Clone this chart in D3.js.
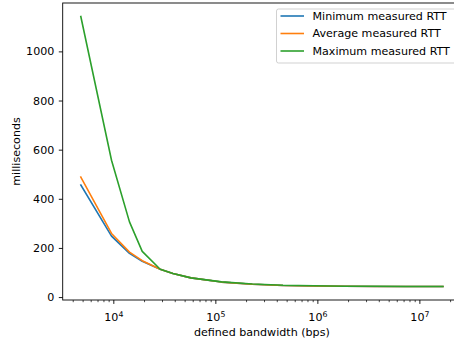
<!DOCTYPE html>
<html>
<head>
<meta charset="utf-8">
<script src="https://cdn.jsdelivr.net/npm/d3@7"></script>
<style>
  body { margin: 0; background: #fff; }
  text { font-family: "DejaVu Sans", sans-serif; }
</style>
</head>
<body>
<div id="chart"></div>
<script>

// bandwidths (bps) and measured RTT (ms)
let bandwidths = [4800, 9600, 14400, 19200, 28800, 38400, 57600, 115200, 230400, 460800, 921600, 1843200, 3686400, 7372800, 17000000]

let rtt_min = [456, 248, 178, 146, 113, 96, 78, 61, 52, 47, 45, 44, 43, 43, 43]
let rtt_avg = [488, 259, 183, 148, 113, 96, 78, 61, 52, 47, 45, 44, 43, 43, 43]
let rtt_max = [1142, 557, 306, 186, 113, 96, 78, 62, 53, 48, 46, 44, 44, 43, 43]

let series_names = ['Minimum measured RTT', 'Average measured RTT', 'Maximum measured RTT']
let series_colors = ['#1f77b4', '#ff7f0e', '#2ca02c']

let y_ticks = [0, 200, 400, 600, 800, 1000]
let x_ticks = [1e4, 1e5, 1e6, 1e7]

let width = 454, height = 343
let font_size = 11.1

// axes box, right spine falls just off the picture
let ax_left = 62.7, ax_right = 461, ax_top = 3, ax_bottom = 300

let svg = d3.select('#chart').append('svg')
  .attr('width', width)
  .attr('height', height)

// matplotlib style 5% margin, in log space for x
let lx0 = Math.log10(d3.min(bandwidths)), lx1 = Math.log10(d3.max(bandwidths))
let mx = (lx1 - lx0) * 0.05
let x = d3.scaleLog()
  .domain([Math.pow(10, lx0 - mx), Math.pow(10, lx1 + mx)])
  .range([ax_left, ax_right])

let all_vals = rtt_min.concat(rtt_avg, rtt_max)
let y0 = d3.min(all_vals), y1 = d3.max(all_vals)
let my = (y1 - y0) * 0.05
let y = d3.scaleLinear()
  .domain([y0 - my, y1 + my])
  .range([ax_bottom, ax_top])

svg.append('clipPath').attr('id', 'plot-clip')
  .append('rect')
  .attr('x', ax_left).attr('y', ax_top)
  .attr('width', ax_right - ax_left).attr('height', ax_bottom - ax_top)

// lines
let all_series = [rtt_min, rtt_avg, rtt_max]

let line = d3.line()
  .x((d, i) => x(bandwidths[i]))
  .y(d => y(d))

svg.append('g')
  .attr('clip-path', 'url(#plot-clip)')
  .selectAll('path')
  .data(all_series)
  .join('path')
  .attr('d', d => line(d))
  .attr('fill', 'none')
  .attr('stroke', (d, i) => series_colors[i])
  .attr('stroke-width', 1.6)
  .attr('stroke-linejoin', 'round')
  .attr('stroke-linecap', 'square')

// y axis
let y_axis = svg.append('g')
  .attr('transform', 'translate(' + ax_left + ',0)')
  .call(d3.axisLeft(y).tickValues(y_ticks).tickSize(3.9).tickPadding(4.5).tickFormat(d3.format('d')))

y_axis.select('.domain').remove()
y_axis.selectAll('line').attr('stroke', '#000').attr('stroke-width', 0.9)
y_axis.selectAll('text').attr('font-size', font_size).attr('fill', '#000')
  .attr('font-family', '"DejaVu Sans", sans-serif')

// x axis, minor ticks first
let minor_ticks = []
for (let e = 3; e <= 7; e++) {
  for (let m = 2; m <= 9; m++) {
    let v = m * Math.pow(10, e)
    if (v > x.domain()[0] && v < x.domain()[1]) minor_ticks.push(v)
  }
}

let x_minor = svg.append('g')
  .attr('transform', 'translate(0,' + ax_bottom + ')')
  .call(d3.axisBottom(x).tickValues(minor_ticks).tickSize(2.2).tickFormat(''))
x_minor.select('.domain').remove()
x_minor.selectAll('line').attr('stroke', '#000').attr('stroke-width', 0.7)

let x_axis = svg.append('g')
  .attr('transform', 'translate(0,' + ax_bottom + ')')
  .call(d3.axisBottom(x).tickValues(x_ticks).tickSize(3.9).tickPadding(3.9).tickFormat(''))
x_axis.select('.domain').remove()
x_axis.selectAll('line').attr('stroke', '#000').attr('stroke-width', 0.9)

// 10^n labels with superscript
x_axis.selectAll('.tick').each(function(d) {
  let t = d3.select(this).append('text')
    .attr('y', 21)
    .attr('text-anchor', 'middle')
    .attr('font-size', font_size)
    .attr('fill', '#000')
  t.append('tspan').text('10')
  t.append('tspan')
    .attr('font-size', 7.8)
    .attr('dy', '-0.5em')
    .text(Math.round(Math.log10(d)))
})

// spines
svg.append('rect')
  .attr('x', ax_left).attr('y', ax_top)
  .attr('width', ax_right - ax_left).attr('height', ax_bottom - ax_top)
  .attr('fill', 'none')
  .attr('stroke', '#000')
  .attr('stroke-width', 0.9)

// axis labels
svg.append('text')
  .attr('x', (ax_left + ax_right) / 2)
  .attr('y', 335.5)
  .attr('text-anchor', 'middle')
  .attr('font-size', font_size)
  .text('defined bandwidth (bps)')

svg.append('text')
  .attr('transform', 'translate(19.5,' + ((ax_top + ax_bottom) / 2) + ') rotate(-90)')
  .attr('text-anchor', 'middle')
  .attr('font-size', font_size)
  .text('milliseconds')

// legend, upper right
let leg_w = 179.5, leg_h = 54
let leg_x = ax_right - 5 - leg_w, leg_y = ax_top + 6

let legend = svg.append('g')
  .attr('transform', 'translate(' + leg_x + ',' + leg_y + ')')

legend.append('rect')
  .attr('width', leg_w).attr('height', leg_h)
  .attr('rx', 2)
  .attr('fill', '#fff')
  .attr('fill-opacity', 0.8)
  .attr('stroke', '#ccc')
  .attr('stroke-width', 0.9)

let leg_items = legend.selectAll('g')
  .data(series_names)
  .join('g')
  .attr('transform', (d, i) => 'translate(0,' + (7 + i * 17.5) + ')')

leg_items.append('line')
  .attr('x1', 4).attr('x2', 27.5)
  .attr('stroke', (d, i) => series_colors[i])
  .attr('stroke-width', 1.6)

leg_items.append('text')
  .attr('x', 36)
  .attr('dy', '0.35em')
  .attr('font-size', font_size)
  .text(d => d)

</script>
</body>
</html>
